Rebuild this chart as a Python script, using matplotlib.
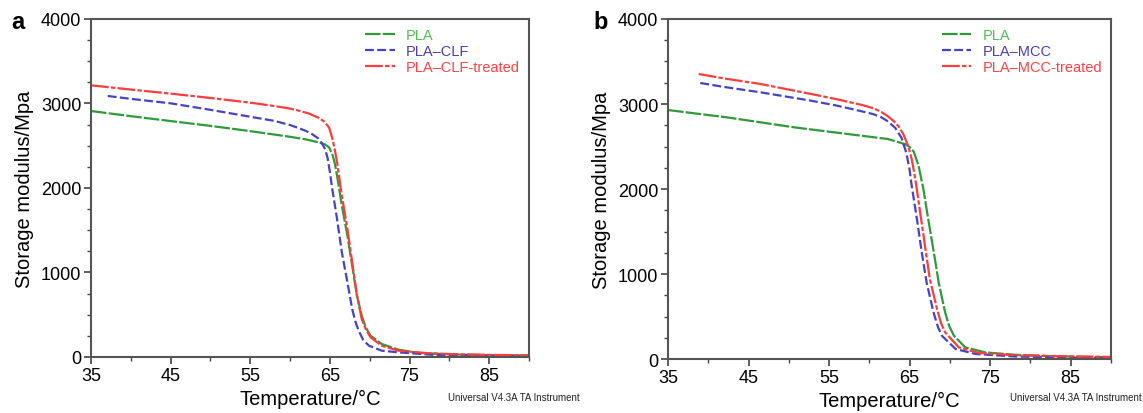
import matplotlib
matplotlib.use("Agg")
import matplotlib.pyplot as plt
from matplotlib.ticker import MultipleLocator

plt.rcParams["font.family"] = ["Liberation Sans", "DejaVu Sans"]

# Panel a: PLA / PLA-CLF / PLA-CLF-treated
a_pla_t = [35, 40, 45, 50, 55, 60, 62, 63.6, 64.4, 64.9, 65.3, 65.6, 65.9, 66.5,
           67.2, 67.8, 68.4, 69.0, 69.5, 70.1, 71.5, 73.6, 76, 80, 85, 90]
a_pla_e = [2911, 2850, 2792, 2735, 2673, 2606, 2575, 2540, 2515, 2481, 2400, 2300,
           2146, 1791, 1436, 1080, 726, 489, 350, 253, 154, 87, 50, 30, 22, 18]

a_clf_t = [37.1, 40, 45, 50, 55, 58, 60, 61.1, 62.0, 62.8, 63.5, 64.0, 64.4, 64.7,
           65.0, 65.3, 65.9, 66.5, 67.2, 67.8, 68.2, 68.6, 69.2, 69.9, 71.5, 73.6,
           78, 85, 90]
a_clf_e = [3089, 3055, 3002, 2925, 2843, 2795, 2745, 2708, 2675, 2635, 2590, 2530,
           2460, 2360, 2190, 1988, 1633, 1239, 884, 568, 420, 312, 200, 134, 75, 55,
           25, 15, 10]

a_clft_t = [35, 40, 45, 50, 55, 58, 60, 61.1, 62.4, 63.6, 64.3, 64.9, 65.3, 65.6,
            65.9, 66.5, 67.2, 67.8, 68.4, 69.0, 69.5, 70.1, 71.5, 73.6, 77, 80, 85,
            90]
a_clft_e = [3215, 3165, 3117, 3065, 3010, 2970, 2940, 2915, 2880, 2830, 2785, 2715,
            2590, 2460, 2304, 1909, 1515, 1120, 726, 450, 330, 233, 134, 75, 47, 35,
            25, 20]

# Panel b: PLA / PLA-MCC / PLA-MCC-treated
b_pla_t = [35, 42.3, 50.7, 59, 62.3, 64.4, 65.0, 65.5, 66.1, 66.7, 67.3, 68.0,
           68.6, 69.4, 69.9, 70.5, 71.9, 74.4, 78, 82, 90]
b_pla_e = [2929, 2843, 2725, 2627, 2588, 2529, 2495, 2440, 2275, 2000, 1647, 1255,
           902, 549, 390, 274, 137, 78, 50, 35, 20]

b_mcc_t = [39, 42, 46.5, 52.75, 56, 59, 60.5, 61.5, 62.3, 63.2, 64.0, 64.6, 65.0,
           65.25, 65.9, 66.5, 67.1, 67.96, 68.5, 69.0, 70.7, 73.2, 78, 85, 90]
b_mcc_e = [3247, 3200, 3137, 3039, 2980, 2915, 2880, 2843, 2795, 2720, 2600, 2420,
           2220, 2039, 1647, 1255, 902, 549, 380, 274, 118, 59, 30, 15, 10]

b_mcct_t = [38.8, 42, 46.5, 52.75, 56, 59, 60.5, 61.5, 62.3, 63.0, 63.6, 64.2,
            64.8, 65.25, 65.7, 66.3, 66.9, 67.5, 68.4, 68.9, 69.4, 71.1, 73.6,
            77.75, 85, 90]
b_mcct_e = [3353, 3300, 3235, 3118, 3055, 2990, 2950, 2905, 2855, 2800, 2740, 2647,
            2509, 2353, 2118, 1725, 1333, 941, 588, 420, 314, 137, 71, 47, 30, 25]

x_ticks = [35, 45, 55, 65, 75, 85]
y_ticks = [0, 1000, 2000, 3000, 4000]

GREEN, BLUE, RED = "#2f9a3a", "#4444c4", "#ff3c3c"
TEXT_COLORS = ["#55bb55", "#4a3fb0", "#ff4444"]


def draw_panel(ax, series, labels):
    styles = [
        dict(color=GREEN, dashes=(7, 1)),
        dict(color=BLUE, dashes=(4, 1.5)),
        dict(color=RED, dashes=(8, 1, 2, 1)),
    ]
    for (t, e), lab, st in zip(series, labels, styles):
        ax.plot(t, e, lw=1.6, label=lab, **st)

    ax.set_xlim(35, 90)
    ax.set_ylim(0, 4000)
    ax.set_xticks(x_ticks)
    ax.set_yticks(y_ticks)
    ax.xaxis.set_minor_locator(MultipleLocator(5))
    ax.yaxis.set_minor_locator(MultipleLocator(250))
    ax.tick_params(which="major", length=5, width=1.2, labelsize=13,
                   color="#444444", pad=2)
    ax.tick_params(which="minor", length=3, width=1.0, color="#444444")
    for sp in ax.spines.values():
        sp.set_color("#555555")
        sp.set_linewidth(1.5)

    ax.set_xlabel("Temperature/°C", fontsize=14.5, labelpad=4)
    ax.set_ylabel("Storage modulus/Mpa", fontsize=14.5, labelpad=5)

    leg = ax.legend(loc="upper right", frameon=False, fontsize=10.5,
                    handlelength=2.0, handletextpad=0.8, labelspacing=0.15,
                    borderaxespad=0.2)
    for txt, c in zip(leg.get_texts(), TEXT_COLORS):
        txt.set_color(c)


fig = plt.figure(figsize=(11.43, 4.14), dpi=100)

ax_a = fig.add_axes([0.0796, 0.1353, 0.3832, 0.8164])
draw_panel(ax_a, [(a_pla_t, a_pla_e), (a_clf_t, a_clf_e), (a_clft_t, a_clft_e)],
           ["PLA", "PLA–CLF", "PLA–CLF-treated"])

ax_b = fig.add_axes([0.5845, 0.1304, 0.3875, 0.8213])
draw_panel(ax_b, [(b_pla_t, b_pla_e), (b_mcc_t, b_mcc_e), (b_mcct_t, b_mcct_e)],
           ["PLA", "PLA–MCC", "PLA–MCC-treated"])

# panel letters and instrument footers
fig.text(0.010, 0.945, "a", fontsize=17, fontweight="bold", va="center")
fig.text(0.519, 0.945, "b", fontsize=17, fontweight="bold", va="center")
fig.text(0.507, 0.038, "Universal V4.3A TA Instrument", fontsize=7, ha="right",
         va="center", color="#222222")
fig.text(0.999, 0.038, "Universal V4.3A TA Instrument", fontsize=7, ha="right",
         va="center", color="#222222")

fig.savefig("out.png", dpi=100)
plt.close(fig)
